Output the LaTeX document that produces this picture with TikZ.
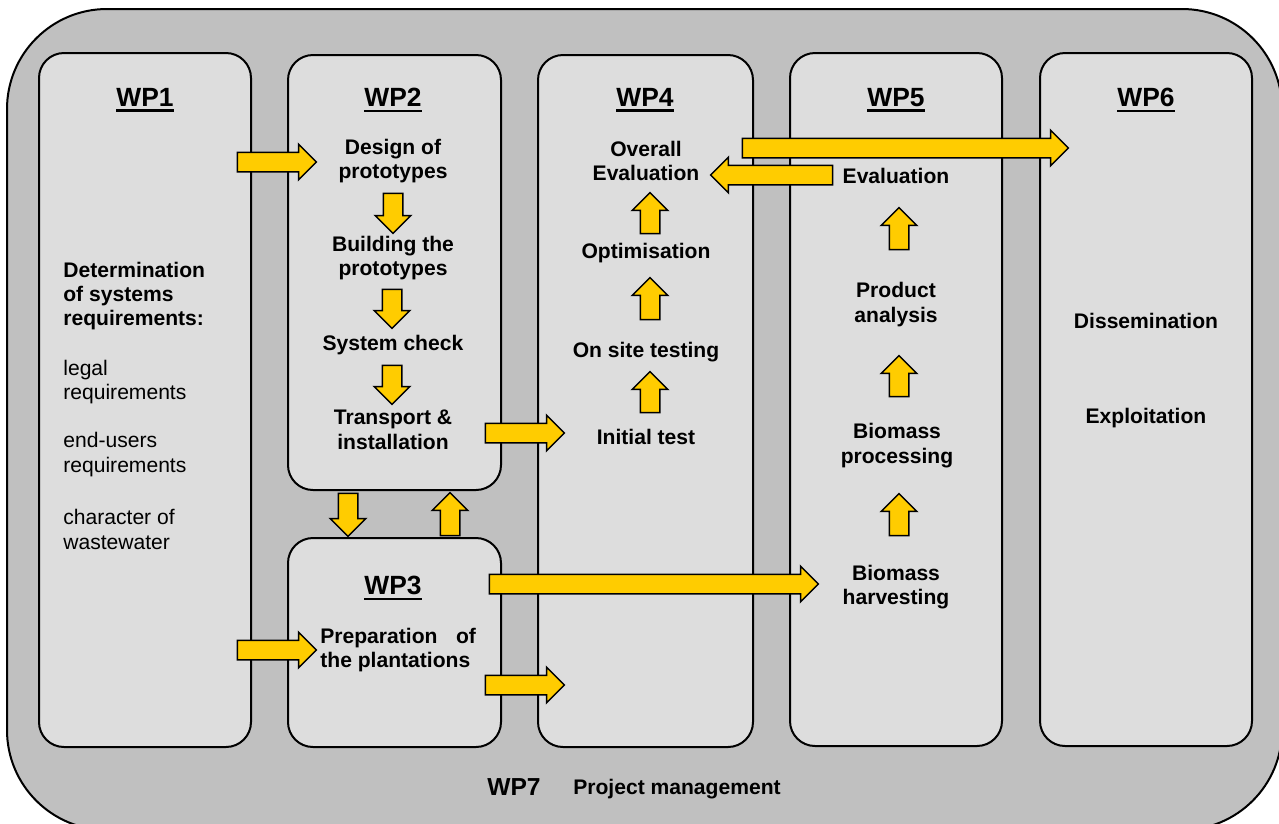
\documentclass[tikz,border=0pt]{standalone}
\usepackage{fontspec}
\setmainfont{Liberation Sans}
\usetikzlibrary{shapes.arrows}

\definecolor{wpframe}{HTML}{C0C0C0}
\definecolor{wppanel}{HTML}{DDDDDD}
\definecolor{wpflow}{HTML}{FFCC00}

% underlined package title with a heavier rule
\newcommand{\wptitle}[1]{\setbox0\hbox{#1}\rlap{\rule[-3.4pt]{\wd0}{1.5pt}}\box0}

\tikzset{
  wpbox/.style={draw, line width=0.4mm, fill=wppanel, rounded corners=5mm},
  head/.style={font=\fontsize{15}{18}\selectfont\bfseries, inner sep=0pt},
  task/.style={font=\fontsize{12}{13.9}\selectfont\bfseries, align=center, inner sep=0pt},
  note/.style={font=\fontsize{12}{13.9}\selectfont, align=left, inner sep=0pt, anchor=west},
  fat/.style={single arrow, draw, line width=0.3mm, fill=wpflow,
    inner xsep=0pt, inner ysep=1.8mm, single arrow head extend=1.6mm},
}

\begin{document}
\begin{tikzpicture}[x=0.2mm, y=-0.2mm]
  \useasboundingbox (0,0) rectangle (1279,823);
  \clip (0,0) rectangle (1279,823);

  % WP7 frame round all packages
  \draw[line width=0.4mm, fill=wpframe, rounded corners=20mm] (7,9) rectangle (1282,830);

  % work package panels and titles
  \foreach \n/\x/\y/\w/\h in {1/145/400/212/694, 2/394.5/272.5/213/435,
                              3/394.5/642.5/213/209, 4/645.5/401/215/692,
                              5/896/399.5/212/693, 6/1146/399.5/212/693}
    \node[wpbox, minimum width=\w*0.2mm, minimum height=\h*0.2mm] (wp\n) at (\x,\y) {};
  \foreach \n/\x/\y in {1/145/100, 2/393/100, 3/393/588, 4/645/100, 5/896/100, 6/1146/100}
    \node[head] (h\n) at (\x,\y) {\wptitle{WP\n}};

  % WP1
  \node[note, font=\fontsize{12}{13.9}\selectfont\bfseries] (req) at (63,296)
    {Determination\\of systems\\requirements:};
  \node[note] (legal) at (63,382) {legal\\requirements};
  \node[note] (users) at (63,454.5) {end-users\\requirements};
  \node[note] (water) at (63,529.5) {character of\\wastewater};

  % WP2 and WP3
  \node[task] (design) at (393,161) {Design of\\prototypes};
  \node[task] (build) at (393,258) {Building the\\prototypes};
  \node[task] (check) at (393,345) {System check};
  \node[task] (transp) at (393,430) {Transport \&\\installation};
  \node[task, align=left, anchor=west] (plant) at (320,650)
    {Preparation\hspace{0.6em} of\\the plantations};

  % WP4
  \node[task] (overall) at (646,161) {Overall\\Evaluation};
  \node[task] (optim) at (646,253) {Optimisation};
  \node[task] (onsite) at (646,352) {On site testing};
  \node[task] (initial) at (646,437) {Initial test};

  % WP5 and WP6
  \node[task] (eval) at (896,176) {Evaluation};
  \node[task] (prodan) at (896,304.5) {Product\\analysis};
  \node[task] (bproc) at (897,445.5) {Biomass\\processing};
  \node[task] (bharv) at (896,587) {Biomass\\harvesting};
  \node[task] (dissem) at (1146,321) {Dissemination};
  \node[task] (exploit) at (1146,418) {Exploitation};

  % WP7
  \node[font=\fontsize{14}{16}\selectfont\bfseries] (wp7) at (514,787) {WP7};
  \node[font=\fontsize{12}{14}\selectfont\bfseries] (pm) at (677,789) {Project management};

  % block arrows: name/x/y/length/angle
  \foreach \n/\x/\y/\l/\r in {a1/272/162/79/0, a2/272/650/79/0,
      d1/393/208.5/40/-90, d2/392/304/39/-90, d3/392/380/39/-90,
      a3/520/433/79/0, d4/348/510/43/-90, u1/450/519/43/90,
      a4/649/584/329/0, a5/520/685/79/0,
      u2/650/397/41/90, u3/650/303.5/42/90, u4/650/218/41/90,
      a6/776.5/175/122/180, a7/900.5/148/326/0,
      u5/899/233.5/42/90, u6/899/381/41/90, u7/899/519.5/42/90}
    \node[fat, minimum height=\l*0.2mm, rotate=\r] (\n) at (\x,\y) {};
\end{tikzpicture}
\end{document}
